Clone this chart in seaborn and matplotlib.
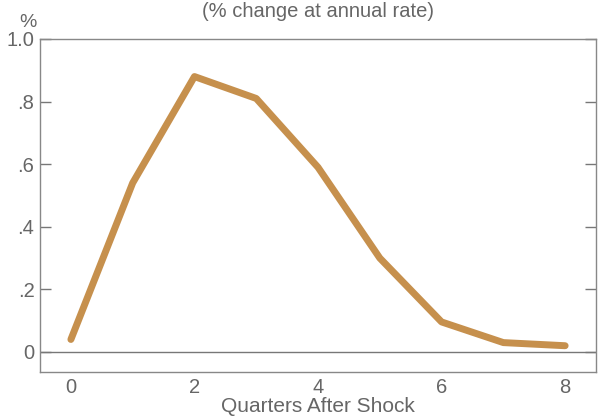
import seaborn as sns
import matplotlib.pyplot as plt
import pandas as pd

quarters = [0, 1, 2, 3, 4, 5, 6, 7, 8]
pct_change = [0.04, 0.54, 0.88, 0.81, 0.59, 0.30, 0.096, 0.03, 0.02]
y_ticks = [0, 0.2, 0.4, 0.6, 0.8, 1.0]
y_labels = ['0', '.2', '.4', '.6', '.8', '1.0']

sns.set_style('white')
plt.rcParams['font.family'] = ['Liberation Sans', 'DejaVu Sans']

datos = pd.DataFrame({'quarter': quarters, 'pct': pct_change})
gris = '#666666'

fig = plt.figure(figsize=(5.98, 4.18), dpi=100)
ax = fig.add_axes([0.0669, 0.110, 0.9298, 0.7967])
sns.lineplot(data=datos, x='quarter', y='pct', color='#c6904d', linewidth=5, ax=ax)
ax.axhline(0, color='#777777', linewidth=1)

ax.set_xlim(-0.5, 8.5)
ax.set_ylim(-0.064, 1.0)
ax.set_xticks(quarters)
ax.set_xticklabels([str(q) if q % 2 == 0 else '' for q in quarters])
ax.set_yticks(y_ticks)
ax.set_yticklabels(y_labels)
ax.tick_params(axis='x', direction='in', length=8, width=1, color='#777777',
               labelsize=14.5, labelcolor=gris, pad=4)
ax.tick_params(axis='y', direction='in', length=8, width=1, color='#777777',
               labelsize=14.5, labelcolor=gris, left=True, right=True, pad=4)
for s in ax.spines.values():
    s.set_color('#888888')
    s.set_linewidth(1)

ax.set_xlabel('Quarters After Shock', fontsize=15, color=gris, labelpad=0)
ax.set_ylabel('')
fig.text(0.532, 0.973, '(% change at annual rate)', fontsize=14.5, color=gris,
         ha='center', va='center')
fig.text(0.047, 0.945, '%', fontsize=14, color=gris, ha='center', va='center')

fig.savefig('out.png', dpi=100)
